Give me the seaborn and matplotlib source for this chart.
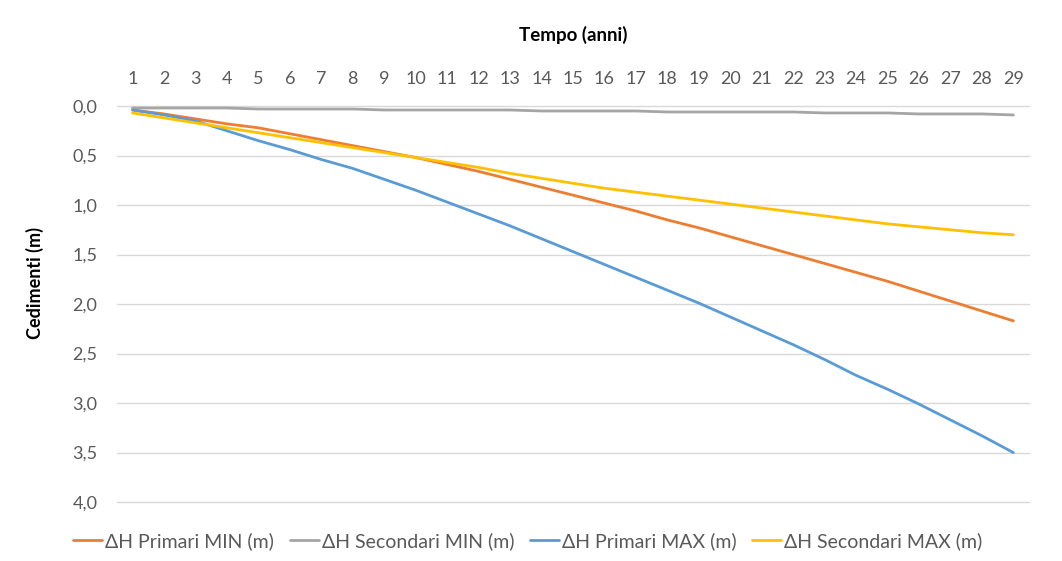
import matplotlib
matplotlib.use("Agg")
import matplotlib.pyplot as plt
from matplotlib.ticker import FuncFormatter, MultipleLocator
import seaborn as sns
import pandas as pd

years = list(range(1, 30))

primari_min = [0.04, 0.08, 0.13, 0.18, 0.22, 0.28, 0.34, 0.40, 0.46, 0.52,
               0.59, 0.66, 0.74, 0.82, 0.90, 0.98, 1.06, 1.15, 1.23, 1.32,
               1.41, 1.50, 1.59, 1.68, 1.77, 1.87, 1.97, 2.07, 2.17]
secondari_min = [0.02, 0.02, 0.02, 0.02, 0.03, 0.03, 0.03, 0.03, 0.04, 0.04,
                 0.04, 0.04, 0.04, 0.05, 0.05, 0.05, 0.05, 0.06, 0.06, 0.06,
                 0.06, 0.06, 0.07, 0.07, 0.07, 0.08, 0.08, 0.08, 0.09]
primari_max = [0.04, 0.09, 0.15, 0.25, 0.35, 0.44, 0.54, 0.63, 0.74, 0.85,
               0.97, 1.09, 1.21, 1.34, 1.47, 1.60, 1.73, 1.86, 1.99, 2.13,
               2.27, 2.41, 2.56, 2.72, 2.86, 3.01, 3.17, 3.33, 3.50]
secondari_max = [0.07, 0.12, 0.17, 0.22, 0.27, 0.32, 0.37, 0.42, 0.47, 0.52,
                 0.57, 0.62, 0.68, 0.73, 0.78, 0.83, 0.87, 0.91, 0.95, 0.99,
                 1.03, 1.07, 1.11, 1.15, 1.19, 1.22, 1.25, 1.28, 1.30]

series_names = ["ΔH Primari MIN (m)", "ΔH Secondari MIN (m)",
                "ΔH Primari MAX (m)", "ΔH Secondari MAX (m)"]
series_values = [primari_min, secondari_min, primari_max, secondari_max]
colors = ["#ED7D31", "#A5A5A5", "#5B9BD5", "#FFC000"]

rows = []
for name, vals in zip(series_names, series_values):
    for x, v in zip(years, vals):
        rows.append({"Anno": x, "Cedimento": v, "Serie": name})
df = pd.DataFrame(rows)

sns.set_theme(style="white")
plt.rcParams["font.family"] = ["Lato", "DejaVu Sans"]

fig = plt.figure(figsize=(10.62, 5.61), dpi=100)
ax = fig.add_axes([0.110, 0.105, 0.859, 0.706])

sns.lineplot(data=df, x="Anno", y="Cedimento", hue="Serie",
             hue_order=series_names, palette=colors, linewidth=2.0,
             ax=ax, legend=True)

ax.set_xlim(0.5, 29.5)
ax.set_ylim(4.0, 0.0)
ax.xaxis.tick_top()
ax.xaxis.set_label_position("top")
ax.set_xticks(years)
ax.set_xticklabels([str(y) for y in years])
ax.yaxis.set_major_locator(MultipleLocator(0.5))
ax.yaxis.set_major_formatter(FuncFormatter(lambda v, p: f"{v:.1f}".replace(".", ",")))
ax.tick_params(axis="both", length=0, labelsize=13, colors="#595959")
ax.tick_params(axis="x", pad=14)
ax.tick_params(axis="y", pad=14)

ax.grid(axis="y", color="#D9D9D9", linewidth=1.0)
ax.grid(axis="x", visible=False)
for gl in ax.get_ygridlines():
    gl.set_clip_on(False)
for s in ax.spines.values():
    s.set_visible(False)

ax.set_xlabel("Tempo (anni)", fontsize=13.5, fontweight="bold", color="#000000", labelpad=21.5)
ax.set_ylabel("Cedimenti (m)", fontsize=13, fontweight="bold", color="#000000")
ax.yaxis.set_label_coords(-0.08, 0.553)

leg = ax.legend(loc="center left", bbox_to_anchor=(0.069, 0.036),
                bbox_transform=fig.transFigure, ncol=4, frameon=False,
                fontsize=14, handlelength=1.5, handletextpad=0.15, columnspacing=0.8,
                borderaxespad=0, borderpad=0)
for t in leg.get_texts():
    t.set_color("#595959")

fig.savefig("out.png", dpi=100, facecolor="white")
